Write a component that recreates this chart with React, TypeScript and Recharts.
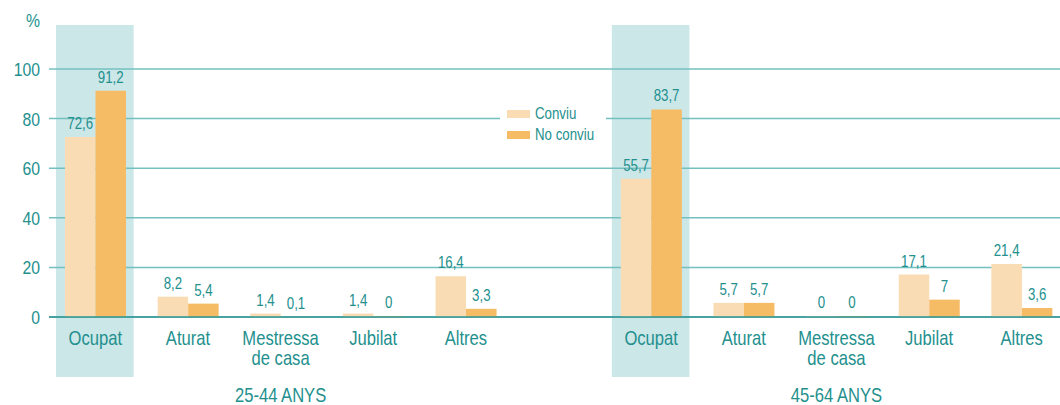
import React from 'react';
import {
  BarChart, Bar, XAxis, YAxis, CartesianGrid, LabelList, Legend, ReferenceArea,
} from 'recharts';

const FONT = "'Liberation Sans', Arial, sans-serif";
const NARROW = 0.83;
const TEAL = '#23908e';
const GRID = '#74c0c0';
const HIGHLIGHT = '#cce7e8';
const LIGHT = '#f9dcb3';
const DARK = '#f6bb65';

const categories = ['Ocupat', 'Aturat', 'Mestressa\nde casa', 'Jubilat', 'Altres'];
const groups = ['25-44 ANYS', '45-64 ANYS'];
const conviu1 = [72.6, 8.2, 1.4, 1.4, 16.4];
const noConviu1 = [91.2, 5.4, 0.1, 0, 3.3];
const conviu2 = [55.7, 5.7, 0, 17.1, 21.4];
const noConviu2 = [83.7, 5.7, 0, 7, 3.6];
const yTicks = [0, 20, 40, 60, 80, 100];

type Row = { id: string; name: string; group?: string; conviu: number | null; noConviu: number | null };

const buildGroup = (g: number, a: number[], b: number[]): Row[] =>
  categories.map((name, i) => ({
    id: `g${g}-${i}`,
    name,
    group: i === 2 ? groups[g] : undefined,
    conviu: a[i],
    noConviu: b[i],
  }));

const data: Row[] = [
  ...buildGroup(0, conviu1, noConviu1),
  { id: 'gap', name: '', conviu: null, noConviu: null },
  ...buildGroup(1, conviu2, noConviu2),
];

const fmt = (v: any) => (v === null || v === undefined ? '' : String(v).replace('.', ','));

// condensed look: squeeze text horizontally around its anchor point
const NarrowText = ({ x, y, size, anchor = 'middle', children }: any) => (
  <g transform={`translate(${x},${y}) scale(${NARROW},1)`}>
    <text x={0} y={0} textAnchor={anchor} fill={TEAL} fontSize={size} fontFamily={FONT}>
      {children}
    </text>
  </g>
);

const CategoryTick = (props: any) => {
  const { x, y, payload } = props;
  const row = data.find((d) => d.id === payload.value);
  if (!row) return null;
  const lines = row.name.split('\n');
  return (
    <g>
      {lines.map((l, i) => (
        <NarrowText key={i} x={x} y={y + 20 + i * 20} size={20}>{l}</NarrowText>
      ))}
      {row.group && <NarrowText x={x} y={y + 77} size={20}>{row.group}</NarrowText>}
    </g>
  );
};

const ValueTick = (props: any) => {
  const { x, y, payload } = props;
  return <NarrowText x={x - 1} y={y + 7} size={19} anchor="end">{payload.value}</NarrowText>;
};

const BarValue = (props: any) => {
  const { x, y, width, value } = props;
  if (value === null || value === undefined) return null;
  return <NarrowText x={x + width / 2} y={y - 8} size={16}>{fmt(value)}</NarrowText>;
};

const HighlightShape = (props: any) => {
  const { x, y, width, height } = props;
  return <rect x={x + 7} y={y - 44} width={width - 15} height={height + 104} fill={HIGHLIGHT} />;
};

const LegendContent = (props: any) => {
  const { payload } = props;
  return (
    <div style={{ background: '#fff', padding: '4px 0 6px 7px', fontFamily: FONT, whiteSpace: 'nowrap' }}>
      {(payload || []).map((p: any) => (
        <div key={p.value} style={{ display: 'flex', alignItems: 'center', height: 21 }}>
          <span style={{ display: 'inline-block', width: 23, height: 8, background: p.color, marginRight: 5 }} />
          <span style={{ color: TEAL, fontSize: 16, display: 'inline-block', transform: `scaleX(${NARROW})`, transformOrigin: 'left center' }}>
            {p.value}
          </span>
        </div>
      ))}
    </div>
  );
};

const zeroBar = (v: any) => (v === 0 ? 1 : 0);

export default function App() {
  return (
    <div style={{ position: 'fixed', left: 0, top: 0, width: 1060, height: 405, overflow: 'hidden', background: '#fff' }}>
      <BarChart
        width={1068}
        height={405}
        data={data}
        margin={{ top: 69, right: 0, left: 0, bottom: 0 }}
        barSize={30.5}
        barGap={0}
      >
        <ReferenceArea x1="g0-0" x2="g0-0" ifOverflow="visible" shape={HighlightShape} zIndex={-150} />
        <ReferenceArea x1="g1-0" x2="g1-0" ifOverflow="visible" shape={HighlightShape} zIndex={-150} />
        <CartesianGrid vertical={false} stroke={GRID} strokeWidth={1.5} />
        <XAxis
          dataKey="id"
          height={88}
          interval={0}
          tickLine={false}
          axisLine={{ stroke: '#2c9593', strokeWidth: 1.5 }}
          tick={CategoryTick}
        />
        <YAxis
          width={49}
          domain={[0, 100]}
          ticks={yTicks}
          axisLine={false}
          tickLine={false}
          tick={ValueTick}
          label={({ viewBox }: any) => (
            <NarrowText x={viewBox.x + viewBox.width - 9} y={viewBox.y - 42} size={19} anchor="end">%</NarrowText>
          )}
        />
        <Legend
          layout="vertical"
          align="center"
          verticalAlign="middle"
          content={LegendContent}
          wrapperStyle={{ position: 'absolute', left: 500, top: 99, width: 106 }}
        />
        <Bar dataKey="conviu" name="Conviu" fill={LIGHT} minPointSize={zeroBar} isAnimationActive={false}>
          <LabelList dataKey="conviu" content={BarValue} />
        </Bar>
        <Bar dataKey="noConviu" name="No conviu" fill={DARK} minPointSize={zeroBar} isAnimationActive={false}>
          <LabelList dataKey="noConviu" content={BarValue} />
        </Bar>
      </BarChart>
    </div>
  );
}
